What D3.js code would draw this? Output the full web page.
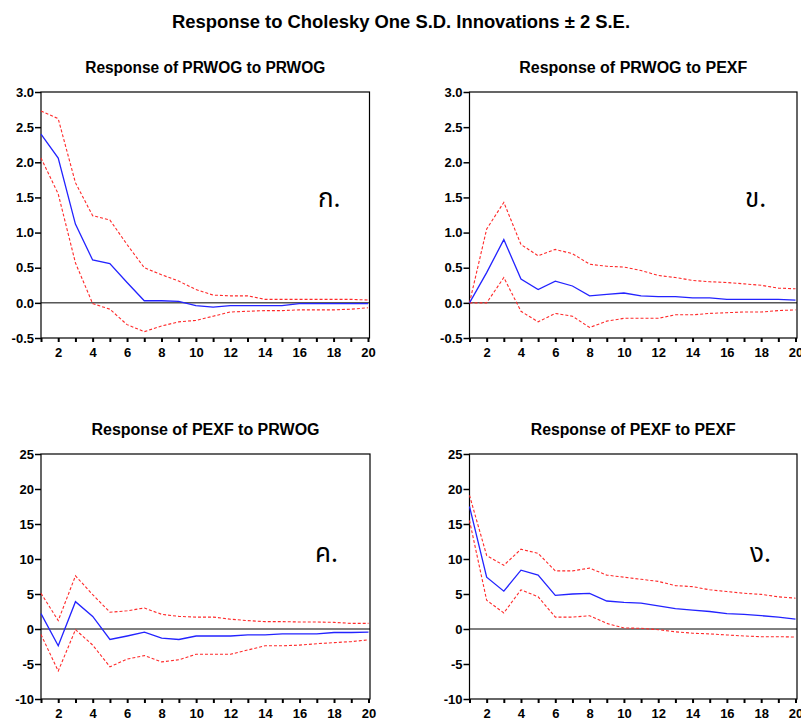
<!DOCTYPE html>
<html>
<head>
<meta charset="utf-8">
<script src="https://cdn.jsdelivr.net/npm/d3@7"></script>
<style>
  body { margin: 0; background: #ffffff; }
  svg { display: block; }
</style>
</head>
<body>
<svg id="chart" width="801" height="720"></svg>
<script>
// Forecast horizon (periods after the shock)
const periods = [1, 2, 3, 4, 5, 6, 7, 8, 9, 10, 11, 12, 13, 14, 15, 16, 17, 18, 19, 20];
const xTickLabels = [2, 4, 6, 8, 10, 12, 14, 16, 18, 20];
const yTicksPrwog = [-0.5, 0.0, 0.5, 1.0, 1.5, 2.0, 2.5, 3.0];
const yTicksPexf = [-10, -5, 0, 5, 10, 15, 20, 25];

// Response of PRWOG to PRWOG
const prwogPrwog = [2.40, 2.06, 1.12, 0.61, 0.56, 0.29, 0.03, 0.03, 0.02, -0.04, -0.06, -0.04, -0.04, -0.04, -0.04, -0.01, -0.01, -0.01, -0.01, -0.01];
const prwogPrwogUpper = [2.73, 2.62, 1.71, 1.24, 1.18, 0.83, 0.50, 0.40, 0.31, 0.19, 0.11, 0.10, 0.10, 0.05, 0.05, 0.05, 0.05, 0.05, 0.05, 0.04];
const prwogPrwogLower = [2.06, 1.55, 0.57, -0.01, -0.09, -0.31, -0.41, -0.33, -0.27, -0.25, -0.19, -0.13, -0.12, -0.11, -0.11, -0.10, -0.10, -0.10, -0.09, -0.07];

// Response of PRWOG to PEXF
const prwogPexf = [0.00, 0.43, 0.90, 0.34, 0.19, 0.31, 0.24, 0.10, 0.12, 0.14, 0.10, 0.09, 0.09, 0.07, 0.07, 0.05, 0.05, 0.05, 0.05, 0.04];
const prwogPexfUpper = [0.00, 1.05, 1.43, 0.83, 0.67, 0.76, 0.70, 0.55, 0.52, 0.51, 0.46, 0.39, 0.36, 0.32, 0.30, 0.29, 0.27, 0.25, 0.21, 0.20];
const prwogPexfLower = [0.00, 0.00, 0.36, -0.12, -0.27, -0.15, -0.19, -0.35, -0.26, -0.22, -0.22, -0.22, -0.17, -0.17, -0.15, -0.14, -0.13, -0.13, -0.11, -0.10];

// Response of PEXF to PRWOG
const pexfPrwog = [2.2, -2.4, 3.9, 1.8, -1.5, -1.0, -0.45, -1.3, -1.5, -1.0, -1.0, -1.0, -0.85, -0.85, -0.7, -0.7, -0.7, -0.5, -0.5, -0.45];
const pexfPrwogUpper = [5.1, 1.2, 7.6, 4.9, 2.4, 2.6, 3.0, 2.1, 1.8, 1.7, 1.7, 1.4, 1.2, 1.05, 1.05, 1.0, 1.0, 0.95, 0.8, 0.8];
const pexfPrwogLower = [-0.8, -6.0, -0.1, -2.3, -5.4, -4.3, -3.8, -4.7, -4.4, -3.6, -3.6, -3.6, -3.0, -2.4, -2.4, -2.3, -2.1, -1.95, -1.8, -1.55];

// Response of PEXF to PEXF
const pexfPexf = [17.5, 7.4, 5.4, 8.4, 7.7, 4.8, 5.0, 5.1, 4.0, 3.8, 3.7, 3.3, 2.9, 2.7, 2.5, 2.2, 2.1, 1.9, 1.7, 1.4];
const pexfPexfUpper = [19.1, 10.5, 9.1, 11.4, 10.8, 8.3, 8.3, 8.7, 7.7, 7.4, 7.1, 6.8, 6.2, 6.05, 5.6, 5.35, 5.1, 4.95, 4.6, 4.4];
const pexfPexfLower = [15.5, 4.1, 2.3, 5.6, 4.6, 1.7, 1.7, 1.9, 0.8, 0.15, 0.1, -0.1, -0.4, -0.6, -0.7, -0.85, -1.0, -1.1, -1.1, -1.15];

const panelTitles = ["Response of PRWOG to PRWOG", "Response of PRWOG to PEXF", "Response of PEXF to PRWOG", "Response of PEXF to PEXF"];
const panelTags = ["ก.", "ข.", "ค.", "ง."];

const svg = d3.select("#chart");
const FONT = "'Liberation Sans', Arial, Helvetica, sans-serif";

svg.append("text")
  .attr("x", 401).attr("y", 28)
  .attr("text-anchor", "middle")
  .attr("font-family", FONT).attr("font-weight", "bold").attr("font-size", 18.4)
  .attr("textLength", 458).attr("lengthAdjust", "spacingAndGlyphs")
  .text("Response to Cholesky One S.D. Innovations \u00B1 2 S.E.");

const panels = [
  { title: panelTitles[0], tag: panelTags[0], resp: prwogPrwog, up: prwogPrwogUpper, lo: prwogPrwogLower,
    box: { l: 41, r: 369.5, t: 92, b: 338 }, domain: [-0.5, 3.0], ticks: yTicksPrwog, fmt: d => d.toFixed(1),
    titleW: 240, tagAt: [318, 207] },
  { title: panelTitles[1], tag: panelTags[1], resp: prwogPexf, up: prwogPexfUpper, lo: prwogPexfLower,
    box: { l: 469.5, r: 797, t: 92, b: 338 }, domain: [-0.5, 3.0], ticks: yTicksPrwog, fmt: d => d.toFixed(1),
    titleW: 228, tagAt: [745, 207] },
  { title: panelTitles[2], tag: panelTags[2], resp: pexfPrwog, up: pexfPrwogUpper, lo: pexfPrwogLower,
    box: { l: 41, r: 370, t: 454, b: 699 }, domain: [-10, 25], ticks: yTicksPexf, fmt: d => String(d),
    titleW: 228, tagAt: [315, 562] },
  { title: panelTitles[3], tag: panelTags[3], resp: pexfPexf, up: pexfPexfUpper, lo: pexfPexfLower,
    box: { l: 469.5, r: 797, t: 454, b: 699 }, domain: [-10, 25], ticks: yTicksPexf, fmt: d => String(d),
    titleW: 205, tagAt: [750, 562] }
];

panels.forEach(p => {
  const { l, r, t, b } = p.box;
  const x = d3.scaleLinear().domain([periods[0], periods[periods.length - 1]]).range([l, r - 1.5]);
  const y = d3.scaleLinear().domain(p.domain).range([b, t]);
  const g = svg.append("g");

  // panel title
  g.append("text")
    .attr("x", (l + r) / 2).attr("y", t - 19)
    .attr("text-anchor", "middle")
    .attr("font-family", FONT).attr("font-weight", "bold").attr("font-size", 16)
    .attr("textLength", p.titleW).attr("lengthAdjust", "spacingAndGlyphs")
    .text(p.title);

  // plot frame
  g.append("rect")
    .attr("x", l).attr("y", t).attr("width", r - l).attr("height", b - t)
    .attr("fill", "#ffffff").attr("stroke", "#000000").attr("stroke-width", 1.2);

  // y axis
  const ya = g.append("g").attr("transform", `translate(${l},0)`)
    .call(d3.axisLeft(y).tickValues(p.ticks).tickSize(6).tickPadding(1).tickFormat(p.fmt));
  ya.select(".domain").remove();
  ya.selectAll("line").attr("stroke", "#000").attr("stroke-width", 1.5);
  ya.selectAll("text").attr("font-family", FONT).attr("font-weight", "bold").attr("font-size", 13).attr("fill", "#000");

  // x axis
  const xa = g.append("g").attr("transform", `translate(0,${b})`)
    .call(d3.axisBottom(x).tickValues(periods).tickSize(4).tickPadding(6)
      .tickFormat(d => xTickLabels.includes(d) ? String(d) : ""));
  xa.select(".domain").remove();
  xa.selectAll("line").attr("stroke", "#000").attr("stroke-width", 2);
  xa.selectAll("text").attr("font-family", FONT).attr("font-weight", "bold").attr("font-size", 13).attr("fill", "#000");

  // zero line
  g.append("line")
    .attr("x1", l).attr("x2", r).attr("y1", y(0)).attr("y2", y(0))
    .attr("stroke", "#000").attr("stroke-width", 1);

  const line = d3.line().x((d, i) => x(periods[i])).y(d => y(d));

  // +/- 2 S.E. bands
  [p.up, p.lo].forEach(band => {
    g.append("path").datum(band)
      .attr("d", line)
      .attr("fill", "none").attr("stroke", "#ff2a2a").attr("stroke-width", 1.1)
      .attr("stroke-dasharray", "3,2");
  });

  // impulse response
  g.append("path").datum(p.resp)
    .attr("d", line)
    .attr("fill", "none").attr("stroke", "#2323ff").attr("stroke-width", 1.3);

  // panel tag
  g.append("text")
    .attr("x", p.tagAt[0]).attr("y", p.tagAt[1])
    .attr("font-family", "'Noto Sans Thai', 'Noto Serif Thai', 'Loma', 'Garuda', 'Norasi', 'DejaVu Sans', sans-serif")
    .attr("font-size", 26).attr("fill", "#000")
    .text(p.tag);
});
</script>
</body>
</html>
